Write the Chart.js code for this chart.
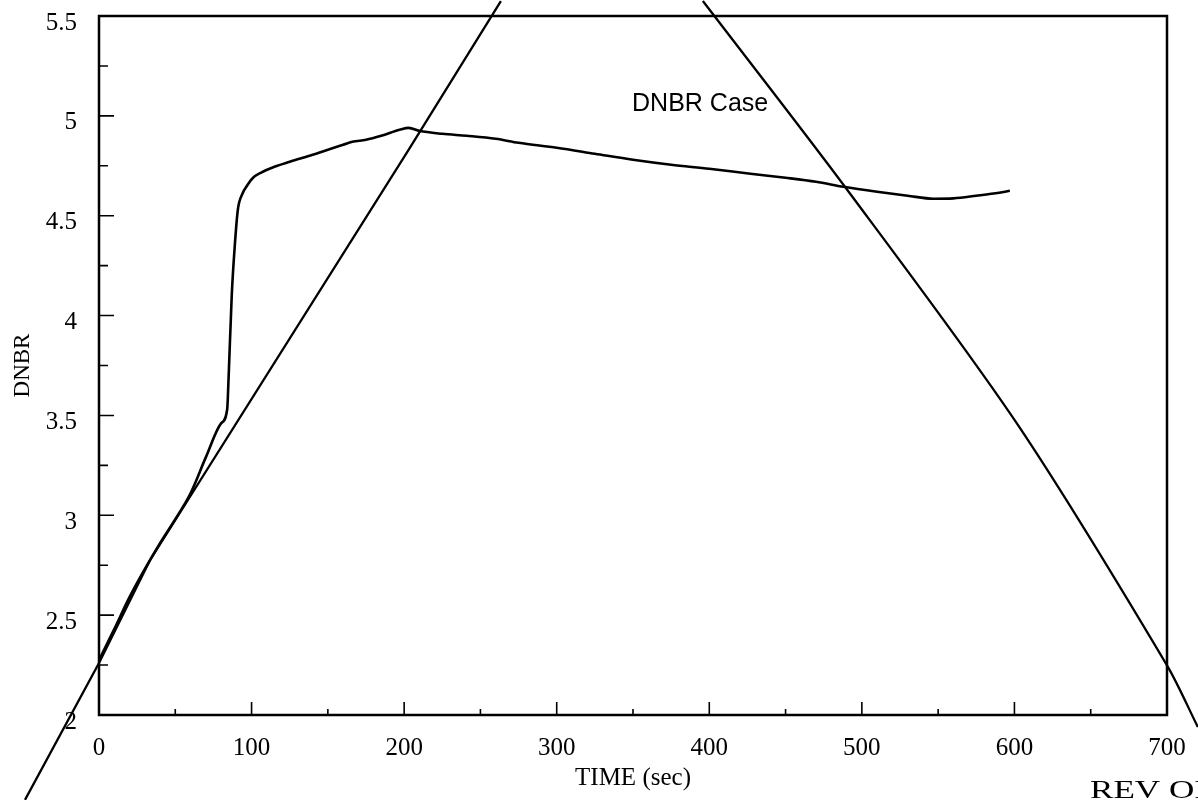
<!DOCTYPE html>
<html>
<head>
<meta charset="utf-8">
<title>DNBR Case</title>
<script src="https://cdn.jsdelivr.net/npm/chart.js@4.4.1/dist/chart.umd.min.js"></script>
<style>
  html, body { margin: 0; padding: 0; background: #fff; }
  #wrap { position: relative; width: 1198px; height: 800px; }
</style>
</head>
<body>
<div id="wrap"><canvas id="dnbrChart"></canvas></div>
<script>
// DNBR vs time
const timeSec = [0, 10, 20, 30, 40, 50, 60, 70, 80, 84, 85, 87, 89, 91, 94, 97, 101, 106, 115, 125, 140, 150,
  160, 166, 175, 185, 197, 203, 210, 225, 241, 260, 275, 300, 325, 350, 375, 400, 427, 450, 470, 488,
  510, 530, 547, 560, 575, 590, 597];
const dnbr = [2.275, 2.43, 2.59, 2.73, 2.86, 2.98, 3.11, 3.29, 3.46, 3.53, 3.7, 4.1, 4.35, 4.53, 4.61, 4.65,
  4.69, 4.715, 4.745, 4.77, 4.805, 4.83, 4.855, 4.87, 4.88, 4.9, 4.93, 4.94, 4.925, 4.91, 4.9, 4.885,
  4.865, 4.84, 4.81, 4.78, 4.755, 4.735, 4.71, 4.69, 4.67, 4.645, 4.62, 4.6, 4.585, 4.587, 4.6, 4.615, 4.625];

// the two ruled strike-out lines, they run past the frame
const strikeLeftX = [-48.5, 0, 33.4, 202.5, 263.4];
const strikeLeftY = [1.575, 2.26, 2.775, 4.825, 5.575];
const strikeRightX = [395.8, 488.9, 601.6, 699.9, 720.2];
const strikeRightY = [5.575, 4.645, 3.46, 2.25, 1.94];

// axes
const xTicks = [0, 100, 200, 300, 400, 500, 600, 700];
const xMinorTicks = [50, 150, 250, 350, 450, 550, 650];
const yTicks = [2, 2.5, 3, 3.5, 4, 4.5, 5, 5.5];
const yMinorTicks = [2.25, 2.75, 3.25, 3.75, 4.25, 4.75, 5.25];

const caseLabel = { text: 'DNBR Case', x: 394, y: 5.06 };
const stampText = 'REV OI';

const toPoints = (xs, ys) => xs.map((v, i) => ({ x: v, y: ys[i] }));

const serif = '"Liberation Serif", "Times New Roman", serif';

// frame, inward tick marks and the loose text on the sheet
const sheetMarks = {
  id: 'sheetMarks',
  afterDatasetsDraw(chart) {
    const { ctx, chartArea: a, scales: { x, y } } = chart;
    ctx.save();
    ctx.strokeStyle = '#000';
    ctx.lineWidth = 2.5;
    ctx.strokeRect(a.left, a.top, a.right - a.left, a.bottom - a.top);

    ctx.lineWidth = 1.6;
    ctx.beginPath();
    xTicks.forEach(v => {
      const px = x.getPixelForValue(v);
      ctx.moveTo(px, a.bottom); ctx.lineTo(px, a.bottom - 13);
    });
    xMinorTicks.forEach(v => {
      const px = x.getPixelForValue(v);
      ctx.moveTo(px, a.bottom); ctx.lineTo(px, a.bottom - 6);
    });
    yTicks.forEach(v => {
      const py = y.getPixelForValue(v);
      ctx.moveTo(a.left, py); ctx.lineTo(a.left + 15, py);
    });
    yMinorTicks.forEach(v => {
      const py = y.getPixelForValue(v);
      ctx.moveTo(a.left, py); ctx.lineTo(a.left + 9, py);
    });
    ctx.stroke();

    ctx.fillStyle = '#000';
    ctx.font = '25px "Liberation Sans", Arial, sans-serif';
    ctx.textAlign = 'center';
    ctx.textBaseline = 'middle';
    ctx.fillText(caseLabel.text, x.getPixelForValue(caseLabel.x), y.getPixelForValue(caseLabel.y));

    // stamp in the page corner, wide serif, cut off by the edge of the sheet
    ctx.translate(1090, 798);
    ctx.scale(1.35, 1);
    ctx.font = '26px ' + serif;
    ctx.textAlign = 'left';
    ctx.textBaseline = 'alphabetic';
    ctx.fillText(stampText, 0, 0);
    ctx.restore();
  }
};

new Chart(document.getElementById('dnbrChart'), {
  type: 'line',
  data: {
    datasets: [
      {
        label: 'DNBR',
        data: toPoints(timeSec, dnbr),
        borderColor: '#000',
        borderWidth: 2.6,
        pointRadius: 0,
        cubicInterpolationMode: 'monotone',
        fill: false,
      },
      {
        label: 'strike 1',
        data: toPoints(strikeLeftX, strikeLeftY),
        borderColor: '#000',
        borderWidth: 2.3,
        pointRadius: 0,
        tension: 0,
        clip: false,
      },
      {
        label: 'strike 2',
        data: toPoints(strikeRightX, strikeRightY),
        borderColor: '#000',
        borderWidth: 2.3,
        pointRadius: 0,
        tension: 0.3,
        clip: false,
      },
    ],
  },
  options: {
    responsive: true,
    maintainAspectRatio: false,
    animation: false,
    layout: { padding: { left: 0, right: 31, top: 16, bottom: 0 } },
    plugins: {
      legend: { display: false },
      tooltip: { enabled: false },
    },
    scales: {
      x: {
        type: 'linear',
        min: 0,
        max: 700,
        afterBuildTicks: s => { s.ticks = xTicks.map(v => ({ value: v })); },
        afterFit: s => { s.height = 85; s.paddingLeft = 0; s.paddingRight = 0; },
        grid: { display: false, drawTicks: false },
        border: { display: false },
        ticks: {
          color: '#000',
          font: { family: serif, size: 25 },
          padding: 18,
          maxRotation: 0,
          autoSkip: false,
        },
        title: {
          display: true,
          text: 'TIME (sec)',
          color: '#000',
          font: { family: serif, size: 25 },
          padding: { top: 0, bottom: 7 },
        },
      },
      y: {
        min: 2,
        max: 5.5,
        afterBuildTicks: s => { s.ticks = yTicks.map(v => ({ value: v })); },
        afterFit: s => { s.width = 99; s.paddingTop = 0; s.paddingBottom = 0; },
        grid: { display: false, drawTicks: false },
        border: { display: false },
        ticks: {
          color: '#000',
          font: { family: serif, size: 25 },
          padding: 22,
          labelOffset: 7,
          callback: v => String(v),
        },
        title: {
          display: true,
          text: 'DNBR',
          color: '#000',
          font: { family: serif, size: 23 },
          padding: { top: 9, bottom: 0 },
        },
      },
    },
  },
  plugins: [sheetMarks],
});
</script>
</body>
</html>
